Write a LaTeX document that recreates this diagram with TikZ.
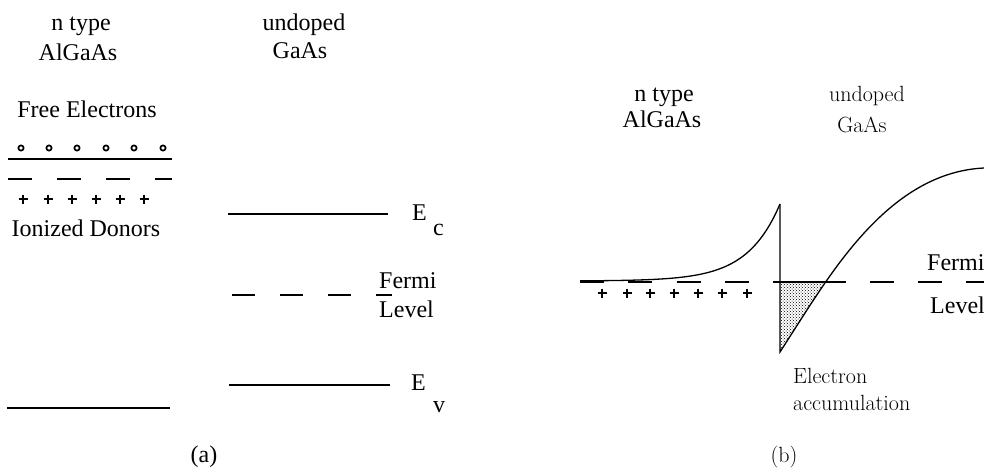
\documentclass[tikz,border=0pt]{standalone}
\usepackage{fontspec}
\newfontfamily\tms{Liberation Serif}
\usetikzlibrary{patterns}

\tikzset{
  tx/.style={font=\tms\fontsize{24}{28}\selectfont, inner sep=0pt, anchor=base},
  lm/.style={font=\fontsize{22}{26}\selectfont, inner sep=0pt, anchor=base},
  level/.style={line width=1.6pt},
  fermi/.style={line width=1.4pt, dash pattern=on 24pt off 24.3pt},
  plus/.style={line width=1.3pt},
}

\begin{document}
\begin{tikzpicture}[x=1pt,y=-1pt]
  \useasboundingbox (0,0) rectangle (984,469);

  % (a) the two layers apart
  \node[tx] (ntypeA) at (81,30) {n type};
  \node[tx] (algaasA) at (78,60) {AlGaAs};
  \node[tx] (undopedA) at (304,30) {undoped};
  \node[tx] (gaasA) at (300,58) {GaAs};
  \node[tx] (free) at (87,117) {Free Electrons};
  \node[tx] (donors) at (86,236) {Ionized Donors};

  \foreach \x in {21,49,77,106,134,163}
    \draw[line width=1.7pt] (\x,148) circle (2.6);
  \draw[level] (8,159) -- (172,159);
  \draw[level, dash pattern=on 24pt off 25pt] (8,179) -- (172,179);
  \foreach \x in {23,48,72,96,120,144}
    \draw[plus] (\x-4.5,199) -- ++(9,0) (\x,194.5) -- ++(0,9);
  \draw[level] (7,408) -- (170,408);

  \draw[level] (228,214) -- (388,214);
  \node[tx, anchor=base west] (ec) at (412,220) {E};
  \node[tx, anchor=base west] (ecsub) at (433,235) {c};
  \draw[level, dash pattern=on 23pt off 25pt] (232,295) -- (392,295);
  \node[tx, anchor=base west] (fermiA) at (379,288) {Fermi};
  \node[tx, anchor=base west] (levelA) at (379,317) {Level};
  \draw[level] (229,385) -- (390,385);
  \node[tx, anchor=base west] (ev) at (411,390) {E};
  \node[tx, anchor=base west] (evsub) at (433,412) {v};

  \node[tx, anchor=center] (capa) at (204,457) {(a)};

  % (b) the junction
  \node[tx] (ntypeB) at (664,101) {n type};
  \node[tx] (algaasB) at (662,127) {AlGaAs};
  \node[lm] (undopedB) at (867,101) {undoped};
  \node[lm] (gaasB) at (862,132) {GaAs};

  \fill[pattern=crosshatch dots, pattern color=black]
    (780,282) -- (780,352) -- (825,282) -- cycle;
  \draw[fermi] (580,282) -- (984,282);
  \draw[line width=1.4pt] (780,282) -- (825,282);
  \draw[line width=1.3pt, domain=580:780, samples=60]
    plot (\x, {281-77*exp((\x-780)/32.7)});
  \draw[line width=1.3pt] (780,204) -- (780,352) -- (805,313)
    .. controls (845,251) and (900,172) .. (984,168);
  \foreach \x in {602,627,650,674,698,722,747}
    \draw[plus] (\x-4.5,293) -- ++(9,0) (\x,288.5) -- ++(0,9);

  \node[tx, anchor=base west] (fermiB) at (927,270) {Fermi};
  \node[tx, anchor=base west] (levelB) at (930,313) {Level};
  \node[lm, anchor=base west] (electron) at (793,383) {Electron};
  \node[lm, anchor=base west] (accum) at (793,410) {accumulation};

  \node[lm, anchor=center] (capb) at (784,457) {(b)};
\end{tikzpicture}
\end{document}
